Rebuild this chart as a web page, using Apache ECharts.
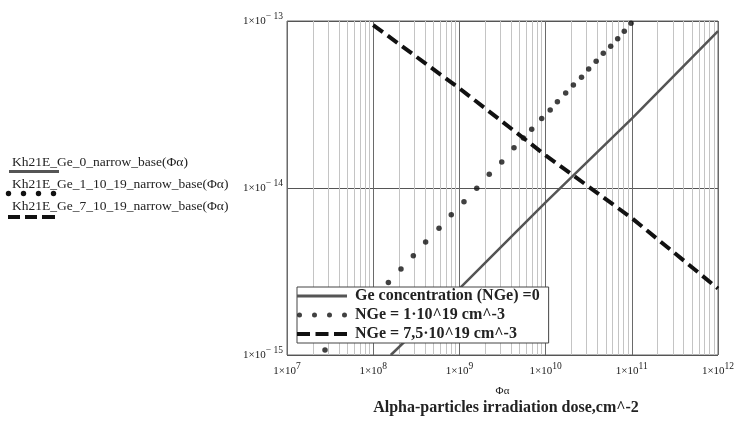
<!DOCTYPE html>
<html>
<head>
<meta charset="utf-8">
<script src="https://cdn.jsdelivr.net/npm/echarts@6/dist/echarts.min.js"></script>
<style>
  html, body { margin: 0; padding: 0; background: #fff; }
  #chart { width: 740px; height: 421px; }
</style>
</head>
<body>
<div id="chart"></div>
<script>
// values (dose in cm^-2, Kh21E)
var doseSolid = [1.6e8, 1e9, 1e10, 1e11, 1e12];
var khSolid = [1e-15, 2.5e-15, 8.2e-15, 2.6e-14, 8.7e-14];

var doseDot = [2.76e7, 1.50e8, 2.10e8, 2.92e8, 4.06e8, 5.80e8, 8.05e8, 1.13e9, 1.59e9,
  2.22e9, 3.10e9, 4.30e9, 5.51e9, 6.90e9, 9.01e9, 1.13e10, 1.37e10, 1.71e10, 2.10e10,
  2.61e10, 3.16e10, 3.86e10, 4.67e10, 5.69e10, 6.86e10, 8.18e10, 9.8e10];
var khDot = [1.07e-15, 2.72e-15, 3.27e-15, 3.93e-15, 4.75e-15, 5.74e-15, 6.92e-15, 8.28e-15, 9.96e-15,
  1.21e-14, 1.43e-14, 1.74e-14, 1.99e-14, 2.25e-14, 2.61e-14, 2.93e-14, 3.28e-14, 3.70e-14, 4.14e-14,
  4.60e-14, 5.16e-14, 5.74e-14, 6.41e-14, 7.06e-14, 7.83e-14, 8.67e-14, 9.7e-14];

var doseDash = [1e8, 1e9, 1e10, 1e11, 1e12];
var khDash = [9.46e-14, 3.95e-14, 1.57e-14, 6.6e-15, 2.5e-15];

var seriesNames = ['Ge concentration (NGe) =0', 'NGe = 1\u00b710^19 cm^-3', 'NGe = 7,5\u00b710^19 cm^-3'];
var traceNames = ['Kh21E_Ge_0_narrow_base(\u03a6\u03b1)', 'Kh21E_Ge_1_10_19_narrow_base(\u03a6\u03b1)',
  'Kh21E_Ge_7_10_19_narrow_base(\u03a6\u03b1)'];

// log grid: decades and the minor steps inside each one
var xDecades = [7, 8, 9, 10, 11, 12];
var yDecades = [-15, -14, -13];
var minorSteps = [2, 3, 4, 5, 6, 7, 8, 9];

var serif = '"Liberation Serif", "Times New Roman", serif';
var ink = '#222';

function pairs(xs, ys) {
  return xs.map(function (x, i) { return [x, ys[i]]; });
}

function minorLines(decades, key) {
  var out = [];
  for (var i = 0; i < decades.length - 1; i++) {
    minorSteps.forEach(function (s) {
      var o = {};
      o[key] = s * Math.pow(10, decades[i]);
      out.push(o);
    });
  }
  return out;
}

function powLabel(v) {
  var e = Math.round(Math.log10(v));
  var s = e < 0 ? '\u2212 ' + (-e) : '' + e;
  return '{m|1\u00d710}{s|' + s + '}';
}

var labelRich = {
  m: { fontFamily: serif, fontSize: 11, color: ink },
  s: { fontFamily: serif, fontSize: 9.5, color: ink, padding: [0, 0, 10, 0] }
};

var solidIcon = 'path://M0,0 L50,0 L50,3 L0,3 Z';
var dotIcon = 'path://M0,2.5 A2.5,2.5 0 1 1 5,2.5 A2.5,2.5 0 1 1 0,2.5 Z' +
  'M15,2.5 A2.5,2.5 0 1 1 20,2.5 A2.5,2.5 0 1 1 15,2.5 Z' +
  'M30,2.5 A2.5,2.5 0 1 1 35,2.5 A2.5,2.5 0 1 1 30,2.5 Z' +
  'M45,2.5 A2.5,2.5 0 1 1 50,2.5 A2.5,2.5 0 1 1 45,2.5 Z';
var dashIcon = 'path://M0,0 L13,0 L13,4 L0,4 Z M18.5,0 L31.5,0 L31.5,4 L18.5,4 Z M37,0 L50,0 L50,4 L37,4 Z';

var myChart = echarts.init(document.getElementById('chart'));

var option = {
  animation: false,
  backgroundColor: '#fff',
  title: {
    text: 'Alpha-particles irradiation dose,cm^-2',
    left: 506, top: 400, textAlign: 'center', padding: 0,
    textStyle: { fontFamily: serif, fontSize: 16, fontWeight: 'bold', color: ink }
  },
  grid: {
    left: 287, right: 22, top: 21, bottom: 66,
    show: true, borderColor: '#666', borderWidth: 1
  },
  xAxis: {
    type: 'log', logBase: 10, min: 1e7, max: 1e12,
    name: '\u03a6\u03b1', nameLocation: 'middle', nameGap: 31,
    nameTextStyle: { fontFamily: serif, fontSize: 11, color: ink },
    axisLine: { show: false },
    axisTick: { show: false },
    axisLabel: { margin: 6, formatter: powLabel, rich: labelRich },
    splitLine: { show: true, lineStyle: { color: '#6a6a6a', width: 1 } }
  },
  yAxis: {
    type: 'log', logBase: 10, min: 1e-15, max: 1e-13,
    axisLine: { show: false },
    axisTick: { show: false },
    axisLabel: { margin: 4, formatter: powLabel, rich: labelRich },
    splitLine: { show: true, lineStyle: { color: '#555', width: 1 } }
  },
  legend: {
    orient: 'vertical', left: 297, top: 287,
    selectedMode: false,
    data: [
      { name: seriesNames[0], icon: solidIcon },
      { name: seriesNames[1], icon: dotIcon },
      { name: seriesNames[2], icon: dashIcon }
    ],
    itemWidth: 50, itemHeight: 6, itemGap: 3,
    itemStyle: { borderWidth: 0 },
    backgroundColor: '#fff', borderColor: '#444', borderWidth: 1,
    padding: [1, 9, 1, 0],
    textStyle: { fontFamily: serif, fontSize: 16, fontWeight: 'bold', color: ink, padding: [0, 0, 0, 3] }
  },
  graphic: [
    { type: 'text', x: 12, y: 162, style: { text: traceNames[0], font: '13.5px ' + serif, fill: ink, verticalAlign: 'middle' } },
    { type: 'line', shape: { x1: 9, y1: 171.5, x2: 59, y2: 171.5 }, style: { stroke: '#555', lineWidth: 3 } },
    { type: 'text', x: 12, y: 184, style: { text: traceNames[1], font: '13.5px ' + serif, fill: ink, verticalAlign: 'middle' } },
    { type: 'circle', shape: { cx: 8.5, cy: 193.5, r: 2.7 }, style: { fill: '#111' } },
    { type: 'circle', shape: { cx: 23.5, cy: 193.5, r: 2.7 }, style: { fill: '#111' } },
    { type: 'circle', shape: { cx: 38.5, cy: 193.5, r: 2.7 }, style: { fill: '#111' } },
    { type: 'circle', shape: { cx: 53.5, cy: 193.5, r: 2.7 }, style: { fill: '#111' } },
    { type: 'text', x: 12, y: 206, style: { text: traceNames[2], font: '13.5px ' + serif, fill: ink, verticalAlign: 'middle' } },
    { type: 'rect', shape: { x: 8, y: 215, width: 12, height: 4 }, style: { fill: '#111' } },
    { type: 'rect', shape: { x: 25, y: 215, width: 12, height: 4 }, style: { fill: '#111' } },
    { type: 'rect', shape: { x: 42, y: 215, width: 13, height: 4 }, style: { fill: '#111' } }
  ],
  series: [
    {
      // minor log grid lines
      name: 'grid', type: 'line', data: [], silent: true,
      markLine: {
        silent: true, z: 1, symbol: 'none',
        label: { show: false },
        lineStyle: { color: '#c4c4c4', width: 1, type: 'solid' },
        emphasis: { disabled: true },
        data: minorLines(xDecades, 'xAxis').concat(minorLines(yDecades, 'yAxis'))
      }
    },
    {
      name: seriesNames[0], type: 'line', z: 3,
      data: pairs(doseSolid, khSolid),
      symbol: 'none',
      itemStyle: { color: '#555' },
      lineStyle: { color: '#555', width: 2.5 }
    },
    {
      name: seriesNames[1], type: 'scatter', z: 3,
      data: pairs(doseDot, khDot),
      symbol: 'circle', symbolSize: 5.5,
      itemStyle: { color: '#111' }
    },
    {
      name: seriesNames[2], type: 'line', z: 3,
      data: pairs(doseDash, khDash),
      symbol: 'none',
      itemStyle: { color: '#111' },
      lineStyle: { color: '#111', width: 4, type: [12, 6] }
    }
  ]
};

myChart.setOption(option);
</script>
</body>
</html>
